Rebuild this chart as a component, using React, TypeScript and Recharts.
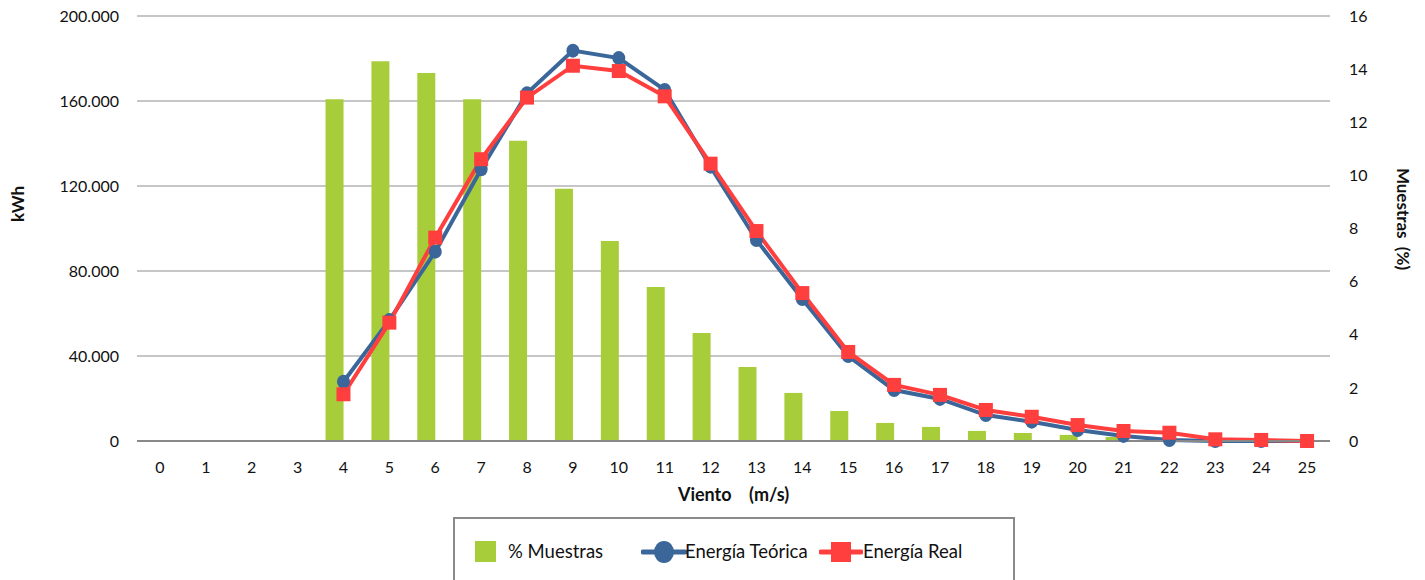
import React from 'react';
import { ComposedChart, Bar, Line, XAxis, YAxis, CartesianGrid, Legend } from 'recharts';

const viento = [0, 1, 2, 3, 4, 5, 6, 7, 8, 9, 10, 11, 12, 13, 14, 15, 16, 17, 18, 19, 20, 21, 22, 23, 24, 25];
const muestras = [0, 0, 0, 0, 12.87, 14.3, 13.85, 12.87, 11.3, 9.5, 7.53, 5.8, 4.07, 2.79, 1.81, 1.13, 0.68, 0.53, 0.38, 0.3, 0.23, 0.15, 0.08, 0, 0, 0];
const energiaTeorica = [null, null, null, null, 27900, 56900, 89100, 127900, 163600, 183700, 180200, 165200, 129100, 94600, 66800, 40000, 24000, 19800, 12200, 9100, 5200, 2400, 500, 0, 0, 0];
const energiaReal = [null, null, null, null, 22000, 55700, 95700, 132600, 161600, 176600, 174100, 162200, 130500, 98800, 69600, 41900, 26400, 21700, 14600, 11400, 7500, 4700, 3900, 800, 500, 0];
const leftTicks = [0, 40000, 80000, 120000, 160000, 200000];
const rightTicks = [0, 2, 4, 6, 8, 10, 12, 14, 16];

const data = viento.map((v, i) => ({
  v: String(v),
  muestras: muestras[i],
  teorica: energiaTeorica[i],
  real: energiaReal[i],
}));

const FONT = 'Lato, "Open Sans", sans-serif';
const GREEN = '#A8CD3A';
const BLUE = '#3B6699';
const RED = '#FF3E3E';

const fmt = (n: number) => String(n).replace(/\B(?=(\d{3})+(?!\d))/g, '.');

const SquareDot = (props: any) => {
  const { cx, cy, index } = props;
  if (cx == null || cy == null || props.value == null) return <g key={`s${index}`} />;
  return <rect key={`s${index}`} x={cx - 7} y={cy - 7} width={14} height={14} fill={RED} />;
};

const CircleDot = (props: any) => {
  const { cx, cy, index } = props;
  if (cx == null || cy == null || props.value == null) return <g key={`c${index}`} />;
  return <ellipse key={`c${index}`} cx={cx} cy={cy} rx={6.5} ry={7} fill={BLUE} />;
};

const renderLegend = () => (
  <div
    style={{
      position: 'relative',
      width: 562,
      height: 63,
      boxSizing: 'border-box',
      border: '2px solid #8a8a8a',
      borderBottom: 'none',
      fontFamily: FONT,
      fontSize: 18.5,
      color: '#111',
    }}
  >
    <div style={{ position: 'absolute', left: 20, top: 22, width: 21, height: 21, background: GREEN }} />
    <div style={{ position: 'absolute', left: 53, top: 21, lineHeight: '22px', whiteSpace: 'pre' }}>% Muestras</div>
    <svg style={{ position: 'absolute', left: 186, top: 20 }} width={46} height={26}>
      <line x1={2} y1={13} x2={44} y2={13} stroke={BLUE} strokeWidth={5} strokeLinecap="round" />
      <ellipse cx={23} cy={13} rx={10} ry={11} fill={BLUE} />
    </svg>
    <div style={{ position: 'absolute', left: 230, top: 21, lineHeight: '22px', whiteSpace: 'pre' }}>Energía Teórica</div>
    <svg style={{ position: 'absolute', left: 364, top: 20 }} width={44} height={26}>
      <line x1={2} y1={13} x2={42} y2={13} stroke={RED} strokeWidth={5} strokeLinecap="round" />
      <rect x={12} y={3} width={20} height={20} fill={RED} />
    </svg>
    <div style={{ position: 'absolute', left: 408, top: 21, lineHeight: '22px', whiteSpace: 'pre' }}>Energía Real</div>
  </div>
);

export default function App() {
  return (
    <div style={{ position: 'absolute', left: 0, top: 0, width: 1425, height: 580, background: '#fff' }}>
      <ComposedChart
        width={1425}
        height={580}
        data={data}
        margin={{ top: 16, right: 0, bottom: 79, left: 0 }}
        barGap={0}
      >
        <CartesianGrid yAxisId="left" vertical={false} stroke="#c6c6c6" strokeWidth={2} />
        <XAxis
          dataKey="v"
          height={60}
          tickLine={false}
          axisLine={{ stroke: '#888888', strokeWidth: 2 }}
          tickMargin={15}
          interval={0}
          tick={{ fill: '#111', fontSize: 16, fontFamily: FONT }}
          label={(p: any) => {
            const vb = p.viewBox;
            return (
              <text
                x={vb.x + vb.width / 2}
                y={494}
                textAnchor="middle"
                dominantBaseline="central"
                style={{ whiteSpace: 'pre', fontFamily: FONT, fontWeight: 700, fontSize: 18, fill: '#111' }}
              >
                {'Viento    (m/s)'}
              </text>
            );
          }}
        />
        <YAxis
          yAxisId="left"
          orientation="left"
          width={137}
          domain={[0, 200000]}
          ticks={leftTicks}
          tickFormatter={fmt}
          axisLine={false}
          tickLine={false}
          tickMargin={12}
          tick={{ fill: '#111', fontSize: 16, fontFamily: FONT }}
          label={() => (
            <text
              x={17}
              y={204}
              textAnchor="middle"
              dominantBaseline="central"
              transform="rotate(-90 17 204)"
              style={{ fontFamily: FONT, fontWeight: 700, fontSize: 17, fill: '#111' }}
            >
              kWh
            </text>
          )}
        />
        <YAxis
          yAxisId="right"
          orientation="right"
          width={95}
          domain={[0, 16]}
          ticks={rightTicks}
          axisLine={false}
          tickLine={false}
          tickMargin={13}
          tick={{ fill: '#111', fontSize: 16, fontFamily: FONT }}
          label={() => (
            <text
              x={1403}
              y={219}
              textAnchor="middle"
              dominantBaseline="central"
              transform="rotate(90 1403 219)"
              style={{ whiteSpace: 'pre', fontFamily: FONT, fontWeight: 700, fontSize: 17, fill: '#111' }}
            >
              {'Muestras  (%)'}
            </text>
          )}
        />
        <Bar yAxisId="right" dataKey="muestras" name="% Muestras" fill={GREEN} barSize={18} isAnimationActive={false} />
        <Bar yAxisId="right" dataKey="none" name="none" fill="transparent" barSize={18} isAnimationActive={false} legendType="none" />
        <Line
          yAxisId="left"
          type="linear"
          dataKey="teorica"
          name="Energía Teórica"
          stroke={BLUE}
          strokeWidth={4}
          dot={CircleDot}
          activeDot={false}
          connectNulls={false}
          isAnimationActive={false}
        />
        <Line
          yAxisId="left"
          type="linear"
          dataKey="real"
          name="Energía Real"
          stroke={RED}
          strokeWidth={4}
          dot={SquareDot}
          activeDot={false}
          connectNulls={false}
          isAnimationActive={false}
        />
        <Legend
          verticalAlign="middle"
          align="center"
          layout="horizontal"
          content={renderLegend}
          wrapperStyle={{ left: 453, top: 517, width: 562, height: 63, bottom: 'auto', right: 'auto' }}
        />
      </ComposedChart>
    </div>
  );
}
